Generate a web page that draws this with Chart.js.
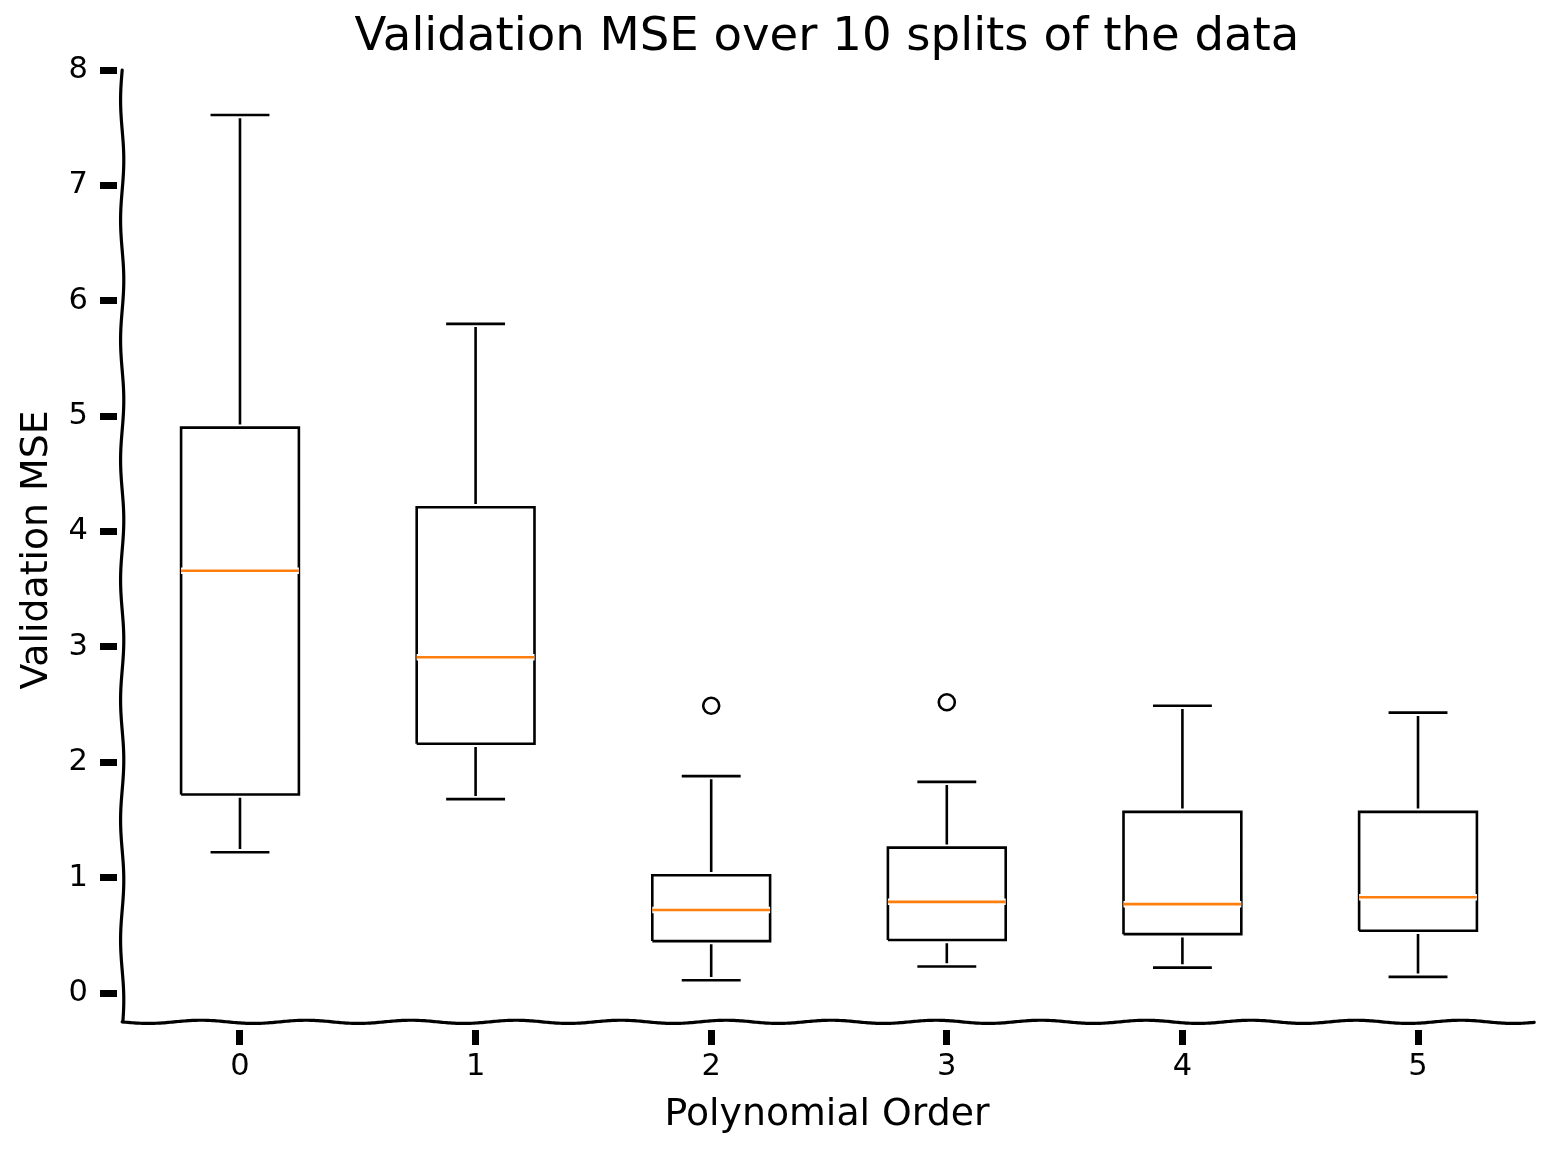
<!DOCTYPE html>
<html>
<head>
<meta charset="utf-8">
<title>Validation MSE over 10 splits of the data</title>
<script src="https://cdn.jsdelivr.net/npm/chart.js@4.4.1/dist/chart.umd.min.js"></script>
<style>
    html, body { margin: 0; padding: 0; background: #fff; }
    #wrap { width: 1555px; height: 1155px; position: relative; }
</style>
</head>
<body>
<div id="wrap"><canvas id="mseChart"></canvas></div>
<script>
// Box plot statistics, one entry per polynomial order
const orders = [0, 1, 2, 3, 4, 5];
const whiskerLow = [1.22, 1.68, 0.11, 0.23, 0.22, 0.14];
const q1 = [1.72, 2.16, 0.45, 0.46, 0.51, 0.54];
const median = [3.66, 2.91, 0.72, 0.79, 0.77, 0.83];
const q3 = [4.90, 4.21, 1.02, 1.26, 1.57, 1.57];
const whiskerHigh = [7.61, 5.80, 1.88, 1.83, 2.49, 2.43];
const outliers = [[], [], [2.49], [2.52], [], []];
const yTicks = [0, 1, 2, 3, 4, 5, 6, 7, 8];

const BOX_HALF = 0.25;
const CAP_HALF = 0.125;
const GAP = x => ({ x: x, y: null });

// Build line segments separated by null points
function buildWhiskers() {
    const pts = [];
    orders.forEach((o, i) => {
        pts.push({ x: o, y: q3[i] }, { x: o, y: whiskerHigh[i] }, GAP(o));
        pts.push({ x: o, y: q1[i] }, { x: o, y: whiskerLow[i] }, GAP(o));
    });
    return pts;
}

function buildCaps() {
    const pts = [];
    orders.forEach((o, i) => {
        pts.push({ x: o - CAP_HALF, y: whiskerHigh[i] }, { x: o + CAP_HALF, y: whiskerHigh[i] }, GAP(o));
        pts.push({ x: o - CAP_HALF, y: whiskerLow[i] }, { x: o + CAP_HALF, y: whiskerLow[i] }, GAP(o));
    });
    return pts;
}

function buildBoxes() {
    const pts = [];
    orders.forEach((o, i) => {
        pts.push(
            { x: o - BOX_HALF, y: q1[i] },
            { x: o + BOX_HALF, y: q1[i] },
            { x: o + BOX_HALF, y: q3[i] },
            { x: o - BOX_HALF, y: q3[i] },
            { x: o - BOX_HALF, y: q1[i] },
            GAP(o)
        );
    });
    return pts;
}

function buildMedians() {
    const pts = [];
    orders.forEach((o, i) => {
        pts.push({ x: o - BOX_HALF, y: median[i] }, { x: o + BOX_HALF, y: median[i] }, GAP(o));
    });
    return pts;
}

function buildFliers() {
    const pts = [];
    orders.forEach((o, i) => {
        outliers[i].forEach(v => pts.push({ x: o, y: v }));
    });
    return pts;
}

function lineLayer(data, color, width) {
    return {
        type: 'line',
        data: data,
        borderColor: color,
        borderWidth: width,
        borderCapStyle: 'butt',
        borderJoinStyle: 'miter',
        pointRadius: 0,
        fill: false,
        spanGaps: false,
        tension: 0
    };
}

// Draw order: white halo under each black line, like the hand-drawn style
const layers = [];
[[buildWhiskers(), '#000'], [buildCaps(), '#000'], [buildBoxes(), '#000'], [buildMedians(), '#ff7f0e']]
    .forEach(([data, color]) => {
        layers.push(lineLayer(data, '#fff', 6.5));
        layers.push(lineLayer(data, color, 2.6));
    });
layers.push({
    type: 'scatter',
    data: buildFliers(),
    pointStyle: 'circle',
    pointRadius: 8,
    pointBorderWidth: 2.6,
    pointBorderColor: '#000',
    pointBackgroundColor: 'rgba(0,0,0,0)'
});
// Chart.js paints dataset 0 on top, so reverse
const datasets = layers.slice().reverse();

// Slightly wavy spines
function wavyLine(ctx, x1, y1, x2, y2, amp, period) {
    const len = Math.hypot(x2 - x1, y2 - y1);
    const ux = (x2 - x1) / len, uy = (y2 - y1) / len;
    ctx.beginPath();
    for (let s = 0; s <= len; s += 2) {
        const off = amp * Math.sin(2 * Math.PI * s / period);
        const px = x1 + ux * s - uy * off;
        const py = y1 + uy * s + ux * off;
        if (s === 0) ctx.moveTo(px, py); else ctx.lineTo(px, py);
    }
    ctx.stroke();
}

const spinePlugin = {
    id: 'spines',
    afterDraw(chart) {
        const ctx = chart.ctx;
        const xs = chart.scales.x, ys = chart.scales.y;
        const left = xs.getPixelForValue(-0.5);
        const right = xs.getPixelForValue(5.5);
        const base = ys.getPixelForValue(-0.25);
        const top = ys.getPixelForValue(8);
        ctx.save();
        ctx.strokeStyle = '#000';
        ctx.lineWidth = 3.2;
        ctx.lineCap = 'round';
        wavyLine(ctx, left, top, left, base, 1.6, 120);
        wavyLine(ctx, left, base, right, base, 1.6, 105);
        ctx.restore();
    }
};

const ctx = document.getElementById('mseChart').getContext('2d');
const mseChart = new Chart(ctx, {
    type: 'line',
    data: { datasets: datasets },
    plugins: [spinePlugin],
    options: {
        responsive: true,
        maintainAspectRatio: false,
        animation: false,
        layout: { padding: { left: 0, right: 18, top: 0, bottom: 0 } },
        plugins: {
            legend: { display: false },
            tooltip: { enabled: false },
            title: {
                display: true,
                fullSize: false,
                text: 'Validation MSE over 10 splits of the data',
                color: '#000',
                font: { family: 'DejaVu Sans', size: 46.6, weight: 'normal', lineHeight: 1.2 },
                padding: { top: 10, bottom: 4.1 }
            }
        },
        scales: {
            x: {
                type: 'linear',
                min: -0.522,
                max: 5.505,
                afterBuildTicks: scale => { scale.ticks = orders.map(v => ({ value: v })); },
                afterFit: scale => { scale.height = 125; },
                grid: {
                    drawOnChartArea: false,
                    drawTicks: true,
                    tickLength: 15,
                    tickWidth: 7,
                    tickColor: '#000'
                },
                border: { display: false },
                ticks: {
                    color: '#000',
                    padding: 4,
                    maxRotation: 0,
                    font: { family: 'DejaVu Sans', size: 30.5 }
                },
                title: {
                    display: true,
                    text: 'Polynomial Order',
                    color: '#000',
                    font: { family: 'DejaVu Sans', size: 37.8, lineHeight: 1.2 },
                    padding: { top: 0, bottom: 17 }
                }
            },
            y: {
                type: 'linear',
                min: -0.3207,
                max: 8,
                afterBuildTicks: scale => { scale.ticks = yTicks.map(v => ({ value: v })); },
                afterFit: scale => { scale.width = 117; },
                grid: {
                    drawOnChartArea: false,
                    drawTicks: true,
                    tickLength: 17,
                    tickWidth: 7,
                    tickColor: '#000'
                },
                border: { display: false },
                ticks: {
                    color: '#000',
                    padding: 12,
                    font: { family: 'DejaVu Sans', size: 30.5 }
                },
                title: {
                    display: true,
                    text: 'Validation MSE',
                    color: '#000',
                    font: { family: 'DejaVu Sans', size: 37.8, lineHeight: 1.2 },
                    padding: { top: 14, bottom: 0 }
                }
            }
        }
    }
});
</script>
</body>
</html>
